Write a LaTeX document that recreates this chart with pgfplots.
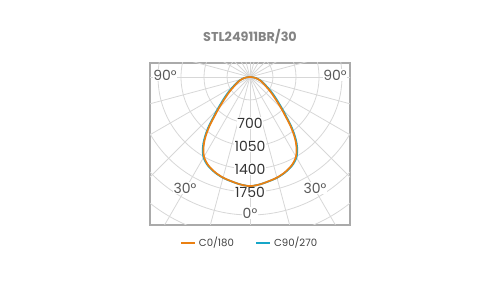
\documentclass[border=0pt]{standalone}
\usepackage{pgfplots}
\pgfplotsset{compat=1.18}
\usepackage{pgfplotstable}
\usepackage{fontspec}
\setmainfont{Poppins}
\definecolor{cOrange}{RGB}{234,128,18}
\definecolor{cCyan}{RGB}{22,166,200}
\definecolor{gridc}{RGB}{215,215,215}
\definecolor{boxc}{RGB}{170,170,170}
\definecolor{titlec}{RGB}{132,132,132}

% C0/180 : gamma (deg), intensity (cd)
\pgfplotstableread{
g r
-90 0
-85 42
-80 85
-75 128
-70 172
-65 220
-60 275
-55 370
-50 490
-45 670
-42.5 785
-40 942
-37.5 1090
-35 1218
-32.5 1320
-30 1400
-27.5 1450
-25 1490
-20 1545
-15 1585
-10 1612
-5 1642
0 1660
5 1642
10 1612
15 1585
20 1545
25 1490
27.5 1450
30 1400
32.5 1320
35 1218
37.5 1090
40 942
42.5 785
45 670
50 490
55 370
60 275
65 220
70 172
75 128
80 85
85 42
90 0
}\tabCzero

% C90/270
\pgfplotstableread{
g r
-90 0
-85 45
-80 90
-75 136
-70 184
-65 236
-60 298
-55 400
-50 525
-45 705
-42.5 818
-40 972
-37.5 1115
-35 1240
-32.5 1340
-30 1415
-27.5 1462
-25 1498
-20 1550
-15 1588
-10 1614
-5 1642
0 1660
5 1642
10 1614
15 1588
20 1550
25 1498
27.5 1462
30 1415
32.5 1340
35 1240
37.5 1115
40 972
42.5 818
45 705
50 525
55 400
60 298
65 236
70 184
75 136
80 90
85 45
90 0
}\tabCninety

\tikzset{lab/.style={fill=white, inner sep=0.6pt, font=\fontsize{10.5}{12}\selectfont, text=black!80},
         dlab/.style={fill=white, inner sep=0.6pt, font=\fontsize{10.5}{12}\selectfont, text=black!65}}

\begin{document}
\begin{tikzpicture}
\useasboundingbox (0,0) rectangle (375pt,225pt);
\node[font=\fontsize{9.6}{11}\selectfont\bfseries, text=titlec] at (187.5pt,197.25pt) {STL24911BR/30};
\begin{axis}[
  at={(112.5pt,56.25pt)}, anchor=south west,
  scale only axis, width=150pt, height=121.5pt,
  xmin=-1522, xmax=1522, ymin=-2252, ymax=213,
  xtick=\empty, ytick=\empty,
  axis line style={draw=boxc, line width=1.2pt},
  legend style={at={(0.5,-0.111)}, anchor=center, draw=none, fill=none,
    legend columns=2, font=\fontsize{7.6}{9}\selectfont, text=black!75,
    /tikz/every even column/.append style={column sep=14pt}},
  legend image code/.code={\draw[#1, line width=1.6pt] (0pt,0pt) -- (10.5pt,0pt);},
  reverse legend,
]
% grid
\pgfplotsinvokeforeach{0,15,...,345}{
  \draw[gridc, line width=0.6pt] (axis cs:0,0) -- (axis cs:{3200*cos(#1)},{3200*sin(#1)});
}
\pgfplotsinvokeforeach{350,700,...,2800}{
  \draw[gridc, line width=0.6pt] (axis cs:0,0) circle[radius=#1];
}
% labels
\node[lab] at (axis cs:0,-700) {700};
\node[lab] at (axis cs:0,-1050) {1050};
\node[lab] at (axis cs:0,-1400) {1400};
\node[lab] at (axis cs:0,-1750) {1750};
\node[dlab] at (axis cs:0,-2070) {0°};
\node[dlab] at (axis cs:-989,-1689) {30°};
\node[dlab] at (axis cs:989,-1689) {30°};
\node[dlab] at (axis cs:-1294,30) {90°};
\node[dlab] at (axis cs:1294,30) {90°};
% curves
\addplot[cCyan, line width=1.3pt, smooth, data cs=polar] table[x expr=\thisrow{g}-90, y=r] {\tabCninety};
\addlegendentry{C90/270}
\addplot[cOrange, line width=1.3pt, smooth, data cs=polar] table[x expr=\thisrow{g}-90, y=r] {\tabCzero};
\addlegendentry{C0/180}
\end{axis}
\end{tikzpicture}
\end{document}
